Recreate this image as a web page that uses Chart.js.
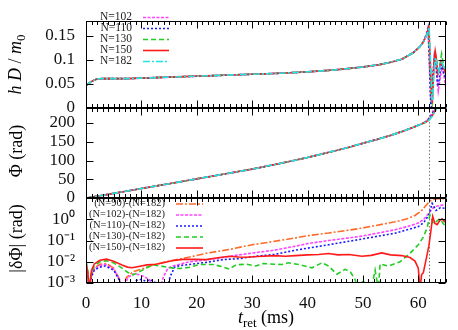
<!DOCTYPE html>
<html><head><meta charset="utf-8">
<script src="https://cdn.jsdelivr.net/npm/chart.js@4.4.1/dist/chart.umd.min.js"></script>
<style>
html,body{margin:0;padding:0;background:#fff;}
#wrap{position:relative;width:458px;height:330px;overflow:hidden;}
canvas{position:absolute;left:0;top:0;}
</style></head><body>
<div id="wrap">
<canvas id="c1" width="458" height="330"></canvas>
<canvas id="c2" width="458" height="330"></canvas>
<canvas id="c3" width="458" height="330"></canvas>
</div>
<script>
// ---------------- DATA ----------------
// tick values / labels
const xTickValues = [0, 10, 20, 30, 40, 50, 60];
const xTickLabels = ['0', '10', '20', '30', '40', '50', '60'];
const yTicksTop = [0, 0.05, 0.1, 0.15];
const yTickLabelsTop = ['0', '0.05', '0.1', '0.15'];
const yTicksMid = [0, 50, 100, 150, 200];
const yTickLabelsMid = ['0', '50', '100', '150', '200'];
const yTicksBot = [0.001, 0.01, 0.1, 1];
const yTickLabelsBot = ['10\u207B\u00B3', '10\u207B\u00B2', '10\u207B\u00B9', '10\u2070'];
const tMerger = 61.9;

// top panel: h D / m0  (shared inspiral part, then per-resolution merger part)
const tInspiral = [0, 0.5, 1, 1.5, 2, 3, 5, 7.5, 10, 15, 20, 25, 30, 35, 40, 45, 50, 53, 55, 57, 59, 60];
const hdInspiral = [0.046, 0.051, 0.055, 0.058, 0.060, 0.061, 0.061, 0.061, 0.062, 0.064, 0.066, 0.068, 0.070, 0.072, 0.075, 0.079, 0.085, 0.090, 0.095, 0.101, 0.114, 0.124];
const tHd102 = [60.5, 61.0, 61.4, 61.7, 61.95, 62.2, 62.35, 62.6, 62.9, 63.2, 63.6, 64.0, 64.3, 64.6, 65.0];
const hd102 = [0.131, 0.140, 0.152, 0.165, 0.110, 0.020, 0.010, 0.060, 0.100, 0.085, 0.035, 0.065, 0.085, 0.070, 0.040];
const tHd110 = [60.5, 61.0, 61.5, 61.8, 62.0, 62.25, 62.4, 62.65, 62.9, 63.2, 63.5, 63.8, 64.1, 64.5, 65.0];
const hd110 = [0.130, 0.139, 0.153, 0.166, 0.100, 0.010, 0.002, 0.070, 0.108, 0.090, 0.045, 0.060, 0.090, 0.075, 0.060];
const tHd130 = [60.5, 61.0, 61.5, 61.85, 62.1, 62.35, 62.5, 62.8, 63.1, 63.35, 63.6, 63.9, 64.2, 64.6, 65.0];
const hd130 = [0.130, 0.139, 0.152, 0.166, 0.100, 0.020, 0.012, 0.080, 0.110, 0.090, 0.070, 0.090, 0.112, 0.085, 0.065];
const tHd150 = [60.5, 61.0, 61.5, 61.9, 62.15, 62.4, 62.55, 62.8, 63.05, 63.3, 63.55, 63.8, 64.1, 64.5, 65.0];
const hd150 = [0.130, 0.139, 0.152, 0.167, 0.100, 0.020, 0.015, 0.090, 0.118, 0.100, 0.070, 0.080, 0.096, 0.085, 0.070];
const tHd182 = [60.5, 61.0, 61.5, 61.95, 62.2, 62.45, 62.6, 62.85, 63.1, 63.4, 63.65, 63.95, 64.2, 64.6, 65.0];
const hd182 = [0.130, 0.138, 0.151, 0.167, 0.100, 0.020, 0.015, 0.080, 0.105, 0.090, 0.075, 0.085, 0.097, 0.085, 0.078];

// middle panel: Phi (rad)
const tPhase = [0, 2.5, 5, 7.5, 10, 12.5, 15, 17.5, 20, 22.5, 25, 27.5, 30, 32.5, 35, 37.5, 40, 42.5, 45, 47.5, 50, 52.5, 55, 57, 59, 60.5];
const phiInspiral = [0, 6, 12.3, 18.8, 25.3, 31.7, 38, 44.5, 51, 57.5, 64, 70.5, 77, 84.5, 92, 100, 108, 117, 126, 135.5, 146, 156, 167, 177, 188, 197];
const tPhi102 = [61.2, 61.7, 62.2, 62.7, 63.2, 63.8, 64.5, 65];
const phi102 = [203, 209, 219, 233, 248, 264, 282, 295];
const tPhi110 = [61.2, 61.8, 62.3, 62.8, 63.3, 63.9, 64.5, 65];
const phi110 = [202, 209, 219, 232, 246, 262, 278, 290];
const tPhi130 = [61.3, 61.9, 62.4, 62.9, 63.4, 64, 64.5, 65];
const phi130 = [202, 208, 218, 230, 243, 258, 272, 285];
const tPhi150 = [61.3, 61.9, 62.4, 62.9, 63.4, 64, 64.5, 65];
const phi150 = [202, 208, 217, 229, 242, 257, 271, 284];
const tPhi182 = [61.3, 61.9, 62.4, 62.9, 63.4, 64, 64.5, 65];
const phi182 = [202, 207, 216, 228, 241, 256, 270, 283];

// bottom panel: |dPhi| (rad), differences to N=182
const tD90 = [0, 0.3, 0.6, 1, 1.5, 2.5, 3.7, 5, 6, 6.5, 7.3, 8.5, 10, 11.6, 14, 16, 18.7, 21.7, 25.9, 30, 33, 37.8, 40.4, 43.8, 49.8, 55.8, 58, 59.4, 60.5, 61.3, 62.2, 63, 64, 65];
const d90 = [1.0e-2, 3.2e-3, 5e-4, 2.5e-3, 5.0e-3, 7.6e-3, 8.3e-3, 5.0e-3, 1.6e-3, 5e-4, 1.8e-3, 3.4e-3, 4.5e-3, 6.3e-3, 9.5e-3, 1.2e-2, 1.66e-2, 2.5e-2, 3.8e-2, 6.3e-2, 8.3e-2, 0.132, 0.174, 0.224, 0.38, 0.76, 1.05, 1.5, 2.4, 4.2, 7.6, 8.9, 9.3, 9.1];
const tD102 = [0, 0.3, 0.6, 1, 1.5, 2.5, 3.5, 5, 6, 6.4, 7, 7.5, 8.5, 9.5, 10.5, 11.5, 12.3, 13.3, 14, 14.8, 15.7, 18.7, 21, 23.5, 27, 30.7, 34, 37.8, 40, 43.8, 49.8, 55.8, 58, 60, 61, 61.9, 62.5, 63.1, 64, 65];
const d102 = [8.9e-3, 3.2e-3, 5e-4, 2.5e-3, 4.5e-3, 6.6e-3, 7.4e-3, 4.5e-3, 1.6e-3, 5e-4, 5e-4, 1.8e-3, 2.6e-3, 2.5e-3, 2.0e-3, 1.4e-3, 5e-4, 5e-4, 2.0e-3, 5.0e-3, 6.3e-3, 1.0e-2, 1.17e-2, 1.41e-2, 2.0e-2, 2.7e-2, 3.5e-2, 5.4e-2, 7.1e-2, 0.10, 0.16, 0.32, 0.45, 0.66, 1.0, 1.95, 3.2, 4.0, 4.5, 4.8];
const tD110 = [0, 0.3, 0.6, 1, 1.5, 2.5, 3.5, 5, 6, 6.4, 8.3, 9, 10, 10.8, 11.5, 12.3, 13, 14.6, 15.2, 16, 17, 18.7, 21.7, 24.7, 27.7, 30.7, 34, 37.8, 43.8, 49.8, 55.8, 60, 61, 61.9, 62.5, 63.2, 64, 65];
const d110 = [7.9e-3, 2.5e-3, 5e-4, 2.0e-3, 4.0e-3, 5.6e-3, 6.3e-3, 4.0e-3, 1.4e-3, 5e-4, 5e-4, 1.3e-3, 1.5e-3, 1.2e-3, 1.4e-3, 1.26e-3, 5e-4, 5e-4, 2.0e-3, 5.6e-3, 6.6e-3, 7.4e-3, 9.3e-3, 1.26e-2, 1.41e-2, 1.82e-2, 2.2e-2, 3.5e-2, 6.3e-2, 0.117, 0.22, 0.45, 0.71, 1.58, 5.6, 2.6, 3.5, 3.2];
const tD130 = [0, 0.3, 0.6, 1, 1.5, 2.5, 3.7, 5, 6.5, 7.5, 8.5, 9.5, 10.5, 12, 13.5, 15.7, 17, 18.7, 20.5, 22.9, 24.5, 25.9, 27.1, 29, 30.7, 32, 34, 35.4, 36.5, 38.4, 39.5, 40.8, 42.6, 43.8, 45.3, 46.8, 47.8, 48.6, 49.1, 50.1, 50.6, 51.5, 52.2, 52.8, 53.1, 54.6, 56.7, 58.5, 60, 60.9, 61.6, 62.1, 62.7, 63.3, 63.9, 64.5, 65];
const d130 = [1.12e-2, 4.0e-3, 5e-4, 3.2e-3, 6.3e-3, 1.0e-2, 1.12e-2, 8.9e-3, 5.0e-3, 3.2e-3, 2.4e-3, 3.2e-3, 4.5e-3, 7.1e-3, 6.3e-3, 5.0e-3, 4.8e-3, 5.5e-3, 7.4e-3, 7.4e-3, 6.0e-3, 4.5e-3, 7.2e-3, 7.6e-3, 6.3e-3, 8.3e-3, 7.6e-3, 7.4e-3, 8.9e-3, 7.4e-3, 6.3e-3, 5.2e-3, 8.9e-3, 6.3e-3, 2.6e-3, 4.4e-3, 3.2e-3, 1.4e-3, 5e-4, 1.4e-3, 5e-4, 5e-4, 4.0e-3, 5e-4, 7.9e-3, 6.3e-3, 1.0e-2, 2.5e-2, 6.3e-2, 0.145, 0.4, 1.58, 0.63, 0.79, 1.05, 0.63, 0.45];
const tD150 = [0, 0.3, 0.6, 1, 1.5, 2.5, 3.7, 5, 6.5, 7.5, 8.3, 9.5, 11, 12.6, 14, 15.5, 17.5, 19.5, 21.7, 23.5, 25.9, 27.5, 28.9, 31, 34, 36, 37.8, 40, 42, 43.8, 45.5, 47.5, 49.8, 51.5, 53.4, 55, 57, 58.5, 59.4, 60, 60.3, 60.6, 60.9, 61.4, 61.9, 62.3, 62.6, 63, 63.4, 63.9, 64.3, 64.7, 65];
const d150 = [8.9e-3, 3.2e-3, 5e-4, 4.0e-3, 7.9e-3, 1.17e-2, 1.32e-2, 1.05e-2, 7.1e-3, 5.6e-3, 5.2e-3, 6.0e-3, 7.1e-3, 7.6e-3, 8.9e-3, 1.12e-2, 1.29e-2, 1.32e-2, 1.26e-2, 1.51e-2, 1.82e-2, 1.66e-2, 1.62e-2, 1.78e-2, 1.95e-2, 1.82e-2, 1.95e-2, 2.1e-2, 2.2e-2, 2.45e-2, 2.1e-2, 2.2e-2, 1.82e-2, 2.0e-2, 2.6e-2, 2.1e-2, 1.95e-2, 1.58e-2, 1.07e-2, 5.0e-3, 5e-4, 2.5e-3, 3.0e-3, 1.26e-2, 5.4e-2, 0.32, 1.35, 0.63, 0.55, 0.89, 1.05, 0.79, 1.0];

// ---------------- STYLE ----------------
const FONT = '"Liberation Serif", "Times New Roman", serif';
const STY = {
  N90:  { color: '#ff6a2a', dash: [7, 2, 2, 2] },
  N102: { color: '#ff44ff', dash: [3, 1.5] },
  N110: { color: '#1a1aff', dash: [2, 2] },
  N130: { color: '#22cc22', dash: [5, 3] },
  N150: { color: '#ff1a1a', dash: [] },
  N182: { color: '#22e4e4', dash: [7, 2, 2, 2] }
};
const LW = 1.6;

function pts(xs, ys) { return xs.map((x, i) => ({ x: x, y: ys[i] })); }
function ds(label, key, data, order) {
  const s = STY[key];
  return { label: label, data: data, borderColor: s.color, borderDash: s.dash, borderWidth: LW,
           pointRadius: 0, tension: 0, fill: false, order: order };
}

function fontFor(p, size) {
  const sz = p.sub ? Math.round(size * 0.7) : size;
  return (p.i ? 'italic ' : '') + sz + 'px ' + FONT;
}
function drawRich(ctx, parts, cx, cy, rot, size) {
  ctx.save();
  ctx.translate(cx, cy);
  if (rot) ctx.rotate(rot);
  ctx.textBaseline = 'middle';
  ctx.textAlign = 'left';
  ctx.fillStyle = '#000';
  const w = parts.map(p => { ctx.font = fontFor(p, size); return ctx.measureText(p.t).width; });
  let x = -w.reduce((a, b) => a + b, 0) / 2;
  parts.forEach((p, k) => {
    ctx.font = fontFor(p, size);
    ctx.fillText(p.t, x, p.sub ? size * 0.3 : 0);
    x += w[k];
  });
  ctx.restore();
}

const decor = {
  id: 'decor',
  beforeDatasetsDraw(chart, args, o) {
    if (o.vline == null) return;
    const ctx = chart.ctx, a = chart.chartArea;
    const px = Math.round(chart.scales.x.getPixelForValue(o.vline)) + 0.5;
    ctx.save();
    ctx.strokeStyle = '#777'; ctx.lineWidth = 1; ctx.setLineDash([1.5, 2]);
    ctx.beginPath(); ctx.moveTo(px, a.top); ctx.lineTo(px, a.bottom); ctx.stroke();
    ctx.restore();
  },
  afterDraw(chart, args, o) {
    const ctx = chart.ctx, a = chart.chartArea;
    const xs = chart.scales.x, ys = chart.scales.y;
    ctx.save();
    ctx.strokeStyle = '#000'; ctx.lineWidth = 1; ctx.setLineDash([]);
    const L = Math.round(a.left) + 0.5, R = Math.round(a.right) - 0.5;
    const T = Math.round(a.top) + 0.5, B = Math.round(a.bottom) - 0.5;
    ctx.strokeRect(L, T, R - L, B - T);
    ctx.beginPath();
    for (let v = 0; v <= 65; v += 1) {
      const len = (v % 10 === 0) ? 7 : 3.5;
      const px = Math.round(xs.getPixelForValue(v)) + 0.5;
      ctx.moveTo(px, B); ctx.lineTo(px, B - len);
      ctx.moveTo(px, T); ctx.lineTo(px, T + len);
    }
    o.yMajor.forEach(v => {
      const py = Math.round(ys.getPixelForValue(v)) + 0.5;
      ctx.moveTo(L, py); ctx.lineTo(L + 7, py);
      ctx.moveTo(R, py); ctx.lineTo(R - 7, py);
    });
    ctx.stroke();
    if (o.legend) {
      const lg = o.legend;
      chart.data.datasets.forEach((d, k) => {
        const y = lg.y0 + k * lg.dy;
        ctx.font = lg.size + 'px ' + FONT;
        ctx.fillStyle = '#222';
        ctx.textAlign = 'right'; ctx.textBaseline = 'middle';
        ctx.fillText(d.label, lg.textRight, y);
        ctx.strokeStyle = d.borderColor; ctx.lineWidth = LW; ctx.setLineDash(d.borderDash);
        ctx.beginPath(); ctx.moveTo(lg.x1, y + 0.5); ctx.lineTo(lg.x2, y + 0.5); ctx.stroke();
        ctx.setLineDash([]);
      });
    }
    if (o.ytitle) drawRich(ctx, o.ytitle.parts, o.ytitle.x, (a.top + a.bottom) / 2 + (o.ytitle.dy || 0), -Math.PI / 2, 18);
    if (o.xtitle) drawRich(ctx, o.xtitle.parts, (a.left + a.right) / 2, o.xtitle.y, 0, 18);
    ctx.restore();
  }
};

function yScale(type, min, max, ticks, labels) {
  return {
    type: type, min: min, max: max,
    afterFit: s => { s.width = 86; },
    afterBuildTicks: s => { s.ticks = ticks.map(v => ({ value: v })); },
    ticks: { font: { family: FONT, size: 17 }, color: '#111', padding: 11, autoSkip: false,
             callback: (v) => { const i = ticks.indexOf(v); return i >= 0 ? labels[i] : ''; } },
    grid: { display: false, drawTicks: false },
    border: { display: false }
  };
}
function xScale(show) {
  const s = {
    type: 'linear', min: 0, max: 65, display: show,
    afterBuildTicks: s => { s.ticks = xTickValues.map(v => ({ value: v })); },
    ticks: { font: { family: FONT, size: 17 }, color: '#111', padding: 10, maxRotation: 0, autoSkip: false,
             callback: (v) => { const i = xTickValues.indexOf(v); return i >= 0 ? xTickLabels[i] : ''; } },
    grid: { display: false, drawTicks: false },
    border: { display: false }
  };
  if (show) s.afterFit = sc => { sc.height = 47; };
  return s;
}
function baseOpts(pad, xShow, ys, decorOpts) {
  return {
    responsive: false, animation: false, devicePixelRatio: 1,
    layout: { padding: pad },
    scales: { x: xScale(xShow), y: ys },
    plugins: { legend: { display: false }, tooltip: { enabled: false }, decor: decorOpts }
  };
}

// ---- top panel ----
new Chart(document.getElementById('c1'), {
  type: 'line',
  data: { datasets: [
    ds('N=102', 'N102', pts(tInspiral.concat(tHd102), hdInspiral.concat(hd102)), 4),
    ds('N=110', 'N110', pts(tInspiral.concat(tHd110), hdInspiral.concat(hd110)), 3),
    ds('N=130', 'N130', pts(tInspiral.concat(tHd130), hdInspiral.concat(hd130)), 2),
    ds('N=150', 'N150', pts(tInspiral.concat(tHd150), hdInspiral.concat(hd150)), 1),
    ds('N=182', 'N182', pts(tInspiral.concat(tHd182), hdInspiral.concat(hd182)), 0)
  ] },
  options: baseOpts({ left: 0, right: 12, top: 12, bottom: 222 }, false,
    yScale('linear', 0, 0.18, yTicksTop, yTickLabelsTop),
    { yMajor: yTicksTop,
      legend: { y0: 17, dy: 11, textRight: 132, x1: 143, x2: 169, size: 11.5 },
      ytitle: { x: 16, dy: 0, parts: [{ t: 'h', i: true }, { t: ' D', i: true }, { t: ' / ' }, { t: 'm', i: true }, { t: '0', sub: true }] } }),
  plugins: [decor]
});

// ---- middle panel ----
new Chart(document.getElementById('c2'), {
  type: 'line',
  data: { datasets: [
    ds('N=102', 'N102', pts(tPhase.concat(tPhi102), phiInspiral.concat(phi102)), 4),
    ds('N=110', 'N110', pts(tPhase.concat(tPhi110), phiInspiral.concat(phi110)), 3),
    ds('N=130', 'N130', pts(tPhase.concat(tPhi130), phiInspiral.concat(phi130)), 2),
    ds('N=150', 'N150', pts(tPhase.concat(tPhi150), phiInspiral.concat(phi150)), 1),
    ds('N=182', 'N182', pts(tPhase.concat(tPhi182), phiInspiral.concat(phi182)), 0)
  ] },
  options: baseOpts({ left: 0, right: 12, top: 108, bottom: 132 }, false,
    yScale('linear', 0, 240, yTicksMid, yTickLabelsMid),
    { yMajor: yTicksMid, vline: tMerger,
      ytitle: { x: 17, dy: -2, parts: [{ t: '\u03A6 (rad)' }] } }),
  plugins: [decor]
});

// ---- bottom panel ----
new Chart(document.getElementById('c3'), {
  type: 'line',
  data: { datasets: [
    ds('(N=90)-(N=182)', 'N90', pts(tD90, d90), 4),
    ds('(N=102)-(N=182)', 'N102', pts(tD102, d102), 3),
    ds('(N=110)-(N=182)', 'N110', pts(tD110, d110), 2),
    ds('(N=130)-(N=182)', 'N130', pts(tD130, d130), 1),
    ds('(N=150)-(N=182)', 'N150', pts(tD150, d150), 0)
  ] },
  options: baseOpts({ left: 0, right: 12, top: 198, bottom: 0 }, true,
    yScale('logarithmic', 0.001, 10, yTicksBot, yTickLabelsBot),
    { yMajor: yTicksBot, vline: tMerger,
      legend: { y0: 203.5, dy: 11, textRight: 165, x1: 176, x2: 203, size: 10.5 },
      ytitle: { x: 17, dy: -2, parts: [{ t: '|\u03B4\u03A6| (rad)' }] },
      xtitle: { y: 318, parts: [{ t: 't', i: true }, { t: 'ret', sub: true }, { t: ' (ms)' }] } }),
  plugins: [decor]
});
</script>
</body></html>
